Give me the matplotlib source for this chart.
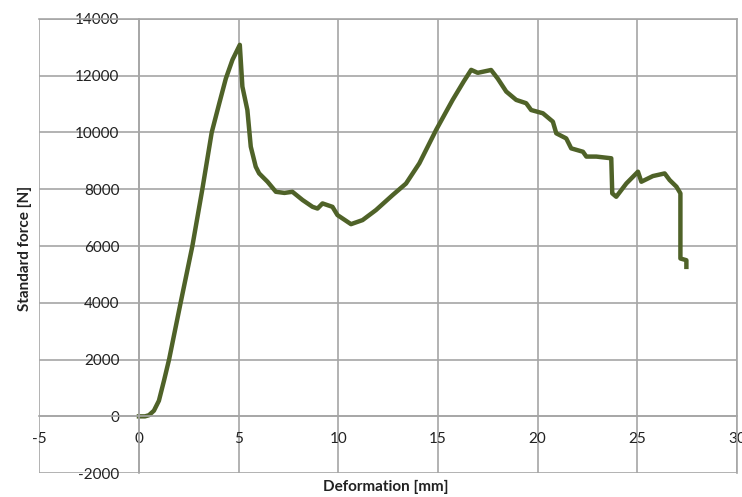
import matplotlib
matplotlib.use("Agg")
import matplotlib.pyplot as plt

plt.rcParams['font.family'] = ['Lato', 'DejaVu Sans']
plt.rcParams['axes.unicode_minus'] = False

# deformation [mm] and standard force [N]
deformation = [0.0, 0.3, 0.5, 0.75, 1.0, 1.26, 1.51, 2.09, 2.68, 3.18, 3.65, 4.02, 4.36, 4.69,
               5.06, 5.19, 5.44, 5.61, 5.86, 6.03, 6.45, 6.87, 7.3, 7.7, 8.21, 8.71,
               8.96, 9.21, 9.71, 9.96, 10.47, 10.64, 11.22, 11.89, 12.73, 13.4,
               14.07, 14.91, 15.74, 16.3, 16.67, 17.0, 17.67, 18.0, 18.43, 18.93, 19.43,
               19.68, 20.27, 20.77, 20.94, 21.44, 21.69, 22.28, 22.45, 22.95, 23.7, 23.75,
               23.95, 24.46, 25.04, 25.21, 25.79, 26.38, 26.63, 26.97, 27.17, 27.17, 27.47,
               27.47]
force = [0, 0, 40, 200, 550, 1270, 2000, 4000, 6000, 8000, 10000, 11000, 11900, 12556,
         13085, 11614, 10790, 9500, 8793, 8558, 8264, 7910, 7870, 7910, 7620, 7380,
         7320, 7500, 7380, 7090, 6850, 6770, 6913, 7265, 7795, 8200,
         8913, 10088, 11146, 11800, 12204, 12100, 12200, 11900, 11440, 11146, 11030,
         10790, 10675, 10380, 9970, 9790, 9440, 9320, 9150, 9150, 9090, 7855,
         7735, 8205, 8617, 8264, 8464, 8557, 8323, 8090, 7855, 5560, 5500,
         5265]

x_ticks = [-5, 0, 5, 10, 15, 20, 25, 30]
y_ticks = [-2000, 0, 2000, 4000, 6000, 8000, 10000, 12000, 14000]

fig = plt.figure(figsize=(7.42, 4.97), dpi=100)
ax = fig.add_axes([0.053, 0.048, 0.94, 0.914])

ax.plot(deformation, force, color='#4f6228', lw=3.2, solid_joinstyle='round')

ax.set_xlim(-5, 30)
ax.set_ylim(-2000, 14000)
ax.set_xticks(x_ticks)
ax.set_yticks(y_ticks)
ax.grid(True, color='#a6a6a6', lw=1.2)
ax.set_axisbelow(True)

# axes cross at zero like the excel chart
ax.spines['left'].set_position(('data', 0))
ax.spines['bottom'].set_position(('data', 0))
for s in ax.spines.values():
    s.set_color('#a6a6a6')
    s.set_linewidth(1.2)
ax.tick_params(axis='both', length=0, labelsize=11, colors='#222222')
ax.tick_params(axis='y', pad=14)
ax.tick_params(axis='x', pad=11)

fig.text(0.52, 0.02, 'Deformation [mm]', ha='center', va='center',
         fontsize=11, fontweight='bold', color='#222222')
fig.text(0.034, 0.5, 'Standard force [N]', ha='center', va='center', rotation=90,
         fontsize=11, fontweight='bold', color='#222222')

fig.savefig('out.png', dpi=100)
